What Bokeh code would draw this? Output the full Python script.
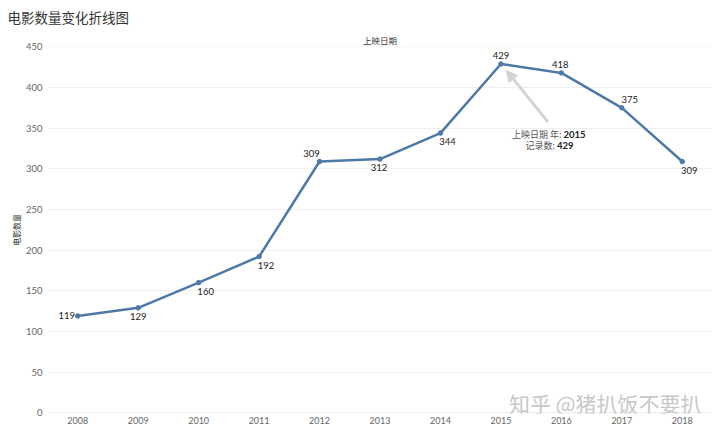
from bokeh.plotting import figure
from bokeh.models import (ColumnDataSource, FixedTicker, Title, Arrow, NormalHead, Range1d)
from bokeh.core.properties import value
from bokeh.embed import file_html
from bokeh.resources import INLINE

# ---- data ----
years = [2008, 2009, 2010, 2011, 2012, 2013, 2014, 2015, 2016, 2017, 2018]
counts = [119, 129, 160, 192, 309, 312, 344, 429, 418, 375, 309]
year_labels = [str(y) for y in years]
y_ticks = [0, 50, 100, 150, 200, 250, 300, 350, 400, 450]
title_text = "电影数量变化折线图"
header_text = "上映日期"
y_title = "电影数量"
tip_year = 2015
tip_count = 429
watermark = "知乎 @猪扒饭不要扒"

# label placement (pixels, style only)
lbl_dx = [-11, 0, 7, 7, -8, -1, 7, 0, -1, 8, 7]
lbl_dy = [0, 8.4, 8.7, 8.7, -8.4, 8.3, 8, -8.6, -8.3, -8.3, 9]

CJK = "Noto Sans CJK SC"
NUM = "Lato"
LINE = "#4e79a7"

LB = 47
x0, x1 = years[0] - 0.5, years[-1] + 0.5
y0, y1 = -1, 450.5
FW, FH = 665, 367

p = figure(x_range=Range1d(x0, x1), y_range=Range1d(y0, y1),
           frame_width=FW, frame_height=FH,
           min_border_left=LB, min_border_right=0, min_border_top=39, min_border_bottom=10,
           output_backend="svg", toolbar_location=None, tools="")
p.outline_line_color = None
p.background_fill_color = "white"
p.border_fill_color = "white"

p.title = Title(text=title_text, align="left", offset=-LB + 7, standoff=8,
                text_font=CJK, text_font_size="13.5px", text_font_style="normal",
                text_color="#333333")
p.add_layout(Title(text=header_text, align="center", standoff=2,
                   text_font=CJK, text_font_size="8.5px", text_font_style="normal",
                   text_color="#333333"), "above")

# axes
p.xaxis.ticker = FixedTicker(ticks=years)
p.xaxis.major_label_overrides = {y: l for y, l in zip(years, year_labels)}
p.xaxis.axis_line_color = None
p.xaxis.major_tick_line_color = None
p.xaxis.minor_tick_line_color = None
p.xaxis.major_tick_out = 0
p.xaxis.minor_tick_out = 0
p.xaxis.major_label_standoff = 3
p.xaxis.major_label_text_font = NUM
p.xaxis.major_label_text_font_size = "9px"
p.xaxis.major_label_text_color = "#666666"

p.yaxis.ticker = FixedTicker(ticks=y_ticks)
p.yaxis.axis_line_color = None
p.yaxis.major_tick_line_color = None
p.yaxis.minor_tick_line_color = None
p.yaxis.major_tick_out = 0
p.yaxis.minor_tick_out = 0
p.yaxis.major_label_standoff = 5
p.yaxis.major_label_text_font = NUM
p.yaxis.major_label_text_font_size = "9.5px"
p.yaxis.major_label_text_color = "#666666"
p.yaxis.axis_label = y_title
p.yaxis.axis_label_text_font = CJK
p.yaxis.axis_label_text_font_size = "8px"
p.yaxis.axis_label_text_font_style = "normal"
p.yaxis.axis_label_text_color = "#333333"
p.yaxis.axis_label_standoff = 1

p.xgrid.visible = False
p.ygrid.grid_line_color = "#efefef"
p.ygrid.grid_line_width = 1

src = ColumnDataSource(dict(x=years, y=counts, t=[str(c) for c in counts],
                            dx=lbl_dx, dy=lbl_dy))
p.line("x", "y", source=src, line_color=LINE, line_width=2.5)
p.scatter("x", "y", source=src, size=4.5, fill_color=LINE, line_color=LINE)
p.text("x", "y", text="t", source=src, x_offset="dx", y_offset="dy",
       text_align="center", text_baseline="middle",
       text_font=value(NUM), text_font_size="9.5px", text_color="#222222")

# tooltip-style annotation at the 2015 peak
sx = FW / (x1 - x0)
sy = FH / (y1 - y0)
p.add_layout(Arrow(end=NormalHead(size=11, fill_color="#d4d4d4", line_color="#d4d4d4"),
                   x_start=tip_year + 47 / sx, y_start=tip_count - 58 / sy,
                   x_end=tip_year + 5.5 / sx, y_end=tip_count - 6.5 / sy,
                   line_color="#d4d4d4", line_width=3))
tip = ColumnDataSource(dict(x=[tip_year, tip_year], y=[tip_count, tip_count],
                            a=["上映日期 年:", "记录数:"],
                            b=[str(tip_year), str(tip_count)],
                            dxa=[60.5, 54], dxb=[62.5, 56], dy=[70.4, 82]))
p.text("x", "y", text="a", source=tip, x_offset="dxa", y_offset="dy",
       text_align="right", text_baseline="middle",
       text_font=value(CJK), text_font_size="9px", text_color="#555555")
p.text("x", "y", text="b", source=tip, x_offset="dxb", y_offset="dy",
       text_align="left", text_baseline="middle", text_font_style="bold",
       text_font=value(NUM), text_font_size="9.5px", text_color="#222222")

# watermark
p.text(x=[x1], y=[y0], text=[watermark], x_offset=-11, y_offset=-11,
       text_align="right", text_baseline="middle",
       text_font=value(CJK), text_font_size="21px", text_color="#c8c8c8")

open("out.html", "w").write(file_html(p, INLINE))
